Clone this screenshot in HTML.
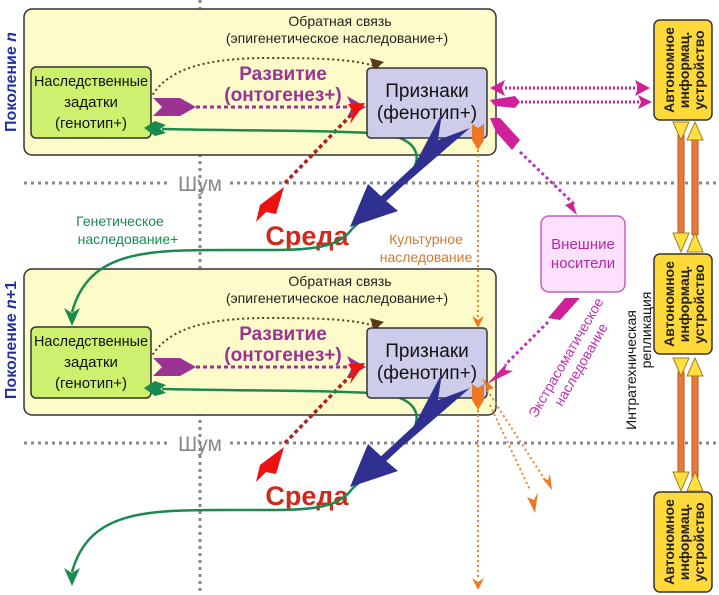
<!DOCTYPE html>
<html><head><meta charset="utf-8"><style>
html,body{margin:0;padding:0;background:#fff;}
svg{display:block;}
text{font-family:"Liberation Sans","DejaVu Sans",sans-serif;}
</style></head><body>
<svg width="719" height="595" viewBox="0 0 719 595" xmlns="http://www.w3.org/2000/svg">
<defs>
<g id="gen">
  <rect x="24" y="9" width="472" height="146" rx="8" fill="#fcfbc9" stroke="#333" stroke-width="1.5"/>
  <text x="340" y="26" font-size="14" text-anchor="middle" fill="#222">Обратная связь</text>
  <text x="337" y="43" font-size="14" text-anchor="middle" fill="#222">(эпигенетическое наследование+)</text>
  <path d="M146,108 C160,70 200,58 270,58 C330,58 360,60 380,68" fill="none" stroke="#5a3a1a" stroke-width="2" stroke-dasharray="2,3"/>
  <polygon points="140,118 137,103 150,106" fill="#5a3a1a"/>
  <polygon points="384,62 370,58 374,70" fill="#5a3a1a"/>
  <text x="283" y="80" font-size="19" font-weight="bold" text-anchor="middle" fill="#9a3394">Развитие</text>
  <text x="283" y="101" font-size="19" font-weight="bold" text-anchor="middle" fill="#9a3394">(онтогенез+)</text>
  <line x1="196" y1="107" x2="350" y2="107" stroke="#9a3394" stroke-width="3" stroke-dasharray="4,3"/>
  <polygon points="153,98 180,98 196,107 180,116 153,116 162,107" fill="#9a3394"/>
  <polygon points="366,107 347,96 352,107 347,118" fill="#9a3394"/>
  <line x1="285" y1="183" x2="352" y2="114" stroke="#b02020" stroke-width="3.5" stroke-dasharray="4,3"/>
  <polygon points="365,103 348,104 353,112 350,124" fill="#ee1111"/>
  <polygon points="284,187 260,205 256,222 266,212 276,214" fill="#ee1111"/>
  <rect x="31" y="67" width="120" height="71" rx="5" fill="#cdf06e" stroke="#333" stroke-width="1.5"/>
  <text x="91" y="86" font-size="15" text-anchor="middle" fill="#111" textLength="114" lengthAdjust="spacingAndGlyphs">Наследственные</text>
  <text x="91" y="107" font-size="15" text-anchor="middle" fill="#111">задатки</text>
  <text x="91" y="128" font-size="15" text-anchor="middle" fill="#111">(генотип+)</text>
  <path d="M162,129 C250,131 330,130 385,134 C420,140 425,160 405,180 C390,198 370,212 352,229" fill="none" stroke="#1a8a50" stroke-width="2.5"/>
  <polygon points="144,128 155,121 166,125 160,129 166,133 155,136" fill="#1a8a50"/>
  <rect x="367" y="68" width="120" height="70" rx="4" fill="#cdcdeb" stroke="#333" stroke-width="1.5"/>
  <text x="427" y="97" font-size="19" text-anchor="middle" fill="#111">Признаки</text>
  <text x="427" y="119" font-size="19" text-anchor="middle" fill="#111">(фенотип+)</text>
  <!-- blue arrow -->
  <line x1="420" y1="165" x2="380" y2="202" stroke="#303090" stroke-width="7"/>
  <polygon points="404,185 442,113 438,140 470,128" fill="#303090"/>
  <polygon points="350,227 368,184 385,200 398,211" fill="#303090"/>
  <polygon points="478,128 472,124 472,140 478,150 484,140 484,124" fill="#ee7722"/>
</g>
<g id="auto">
  <rect x="0" y="0" width="58" height="100" rx="6" fill="#ffd83a" stroke="#333" stroke-width="1.5"/>
  <text transform="translate(20,50) rotate(-90)" font-size="14" font-weight="bold" text-anchor="middle" fill="#222">Автономное</text>
  <text transform="translate(35,50) rotate(-90)" font-size="14" font-weight="bold" text-anchor="middle" fill="#222">информац.</text>
  <text transform="translate(50,50) rotate(-90)" font-size="14" font-weight="bold" text-anchor="middle" fill="#222">устройство</text>
</g>
</defs>

<line x1="200" y1="0" x2="200" y2="595" stroke="#888" stroke-width="3" stroke-dasharray="3,4"/>
<line x1="24" y1="183" x2="170" y2="183" stroke="#888" stroke-width="3" stroke-dasharray="3,4"/>
<line x1="230" y1="183" x2="719" y2="183" stroke="#888" stroke-width="3" stroke-dasharray="3,4"/>
<line x1="24" y1="443" x2="170" y2="443" stroke="#888" stroke-width="3" stroke-dasharray="3,4"/>
<line x1="230" y1="443" x2="719" y2="443" stroke="#888" stroke-width="3" stroke-dasharray="3,4"/>
<text x="200" y="191" font-size="21" text-anchor="middle" fill="#888">Шум</text>
<text x="200" y="451" font-size="21" text-anchor="middle" fill="#888">Шум</text>

<use href="#gen"/>
<use href="#gen" y="260"/>

<text transform="translate(16,82) rotate(-90)" font-size="16" font-weight="bold" text-anchor="middle" fill="#2030a0">Поколение <tspan font-style="italic">n</tspan></text>
<text transform="translate(16,340) rotate(-90)" font-size="16" font-weight="bold" text-anchor="middle" fill="#2030a0">Поколение <tspan font-style="italic">n</tspan>+1</text>

<text x="307" y="245" font-size="27" font-weight="bold" text-anchor="middle" fill="#cc2a1a">Среда</text>
<text x="307" y="505" font-size="27" font-weight="bold" text-anchor="middle" fill="#cc2a1a">Среда</text>

<path d="M352,229 C335,252 300,250 240,250 C150,250 90,248 72,312" fill="none" stroke="#1a8a50" stroke-width="2.5"/>
<polygon points="72,326 64,308 72,313 80,308" fill="#1a8a50"/>
<text x="120" y="226" font-size="14" text-anchor="middle" fill="#1a8a50">Генетическое</text>
<text x="128" y="244" font-size="14" text-anchor="middle" fill="#1a8a50">наследование+</text>
<path d="M352,489 C335,512 300,510 240,510 C150,510 90,508 72,572" fill="none" stroke="#1a8a50" stroke-width="2.5"/>
<polygon points="72,586 64,568 72,573 80,568" fill="#1a8a50"/>

<line x1="478" y1="150" x2="478" y2="318" stroke="#e08830" stroke-width="2" stroke-dasharray="2,3"/>
<polygon points="478,328 472,316 478,320 484,316" fill="#ee7722"/>
<text x="426" y="244" font-size="14" text-anchor="middle" fill="#d07a30">Культурное</text>
<text x="426" y="262" font-size="14" text-anchor="middle" fill="#d07a30">наследование</text>
<line x1="478" y1="410" x2="478" y2="578" stroke="#e08830" stroke-width="2" stroke-dasharray="2,3"/>
<polygon points="478,590 472,578 478,582 484,578" fill="#ee7722"/>
<line x1="487" y1="390" x2="545" y2="480" stroke="#e08830" stroke-width="2" stroke-dasharray="2,3"/>
<polygon points="552,490 542,478 548,480 550,474" fill="#ee7722"/>
<line x1="490" y1="405" x2="530" y2="490" stroke="#e08830" stroke-width="2" stroke-dasharray="2,3"/>
<polygon points="535,513 527,497 534,500 538,492" fill="#ee7722"/>
<polygon points="482,378 494,388 488,390 490,396" fill="#ee7722"/>

<line x1="505" y1="88" x2="645" y2="88" stroke="#d0209a" stroke-width="3" stroke-dasharray="2,2"/>
<line x1="505" y1="102" x2="645" y2="102" stroke="#d0209a" stroke-width="3" stroke-dasharray="2,2"/>
<polygon points="490,88 505,80 502,88 505,96" fill="#d0209a"/>
<polygon points="650,88 635,80 638,88 635,96" fill="#d0209a"/>
<polygon points="490,100 515,96 520,102 515,108 495,106" fill="#d0209a"/>
<polygon points="652,102 638,95 641,102 638,109" fill="#d0209a"/>
<polygon points="490,118 500,118 520,140 512,150 496,132" fill="#d0209a"/>
<line x1="520" y1="152" x2="575" y2="205" stroke="#c030c0" stroke-width="3" stroke-dasharray="3,3"/>
<polygon points="577,215 565,205 573,202 570,194" fill="#d0209a"/>

<rect x="541" y="216" width="84" height="76" rx="8" fill="#fde0fb" stroke="#c060c0" stroke-width="1.5"/>
<text x="583" y="249" font-size="15" text-anchor="middle" fill="#b02aa8">Внешние</text>
<text x="583" y="268" font-size="15" text-anchor="middle" fill="#b02aa8">носители</text>
<polygon points="565,298 580,298 560,320 548,318" fill="#d0209a"/>
<line x1="548" y1="322" x2="505" y2="365" stroke="#c030c0" stroke-width="3" stroke-dasharray="3,3"/>
<polygon points="487,384 507,363 505,370 513,371" fill="#d0209a"/>
<text transform="translate(570,360) rotate(-60)" font-size="14" text-anchor="middle" fill="#c030b0">Экстрасоматическое</text>
<text transform="translate(585,367) rotate(-60)" font-size="14" text-anchor="middle" fill="#c030b0">наследование</text>

<text transform="translate(636,370) rotate(-90)" font-size="14" text-anchor="middle" fill="#111">Интратехническая</text>
<text transform="translate(651,330) rotate(-90)" font-size="14" text-anchor="middle" fill="#111">репликация</text>

<use href="#auto" x="654" y="20"/>
<use href="#auto" x="654" y="254"/>
<use href="#auto" x="654" y="492"/>
<g stroke="#c05020" stroke-width="1">
<rect x="678" y="135" width="6" height="100" fill="#e67a3a"/>
<rect x="692" y="135" width="6" height="100" fill="#e67a3a"/>
<rect x="678" y="372" width="6" height="105" fill="#e67a3a"/>
<rect x="692" y="372" width="6" height="105" fill="#e67a3a"/>
</g>
<g fill="#ffe040" stroke="#a08020" stroke-width="1">
<polygon points="673,122 689,122 681,140"/>
<polygon points="673,233 689,233 681,252"/>
<polygon points="687,140 703,140 695,122"/>
<polygon points="687,252 703,252 695,233"/>
<polygon points="673,358 689,358 681,376"/>
<polygon points="673,472 689,472 681,491"/>
<polygon points="687,376 703,376 695,358"/>
<polygon points="687,491 703,491 695,472"/>
</g>
</svg>
</body></html>
